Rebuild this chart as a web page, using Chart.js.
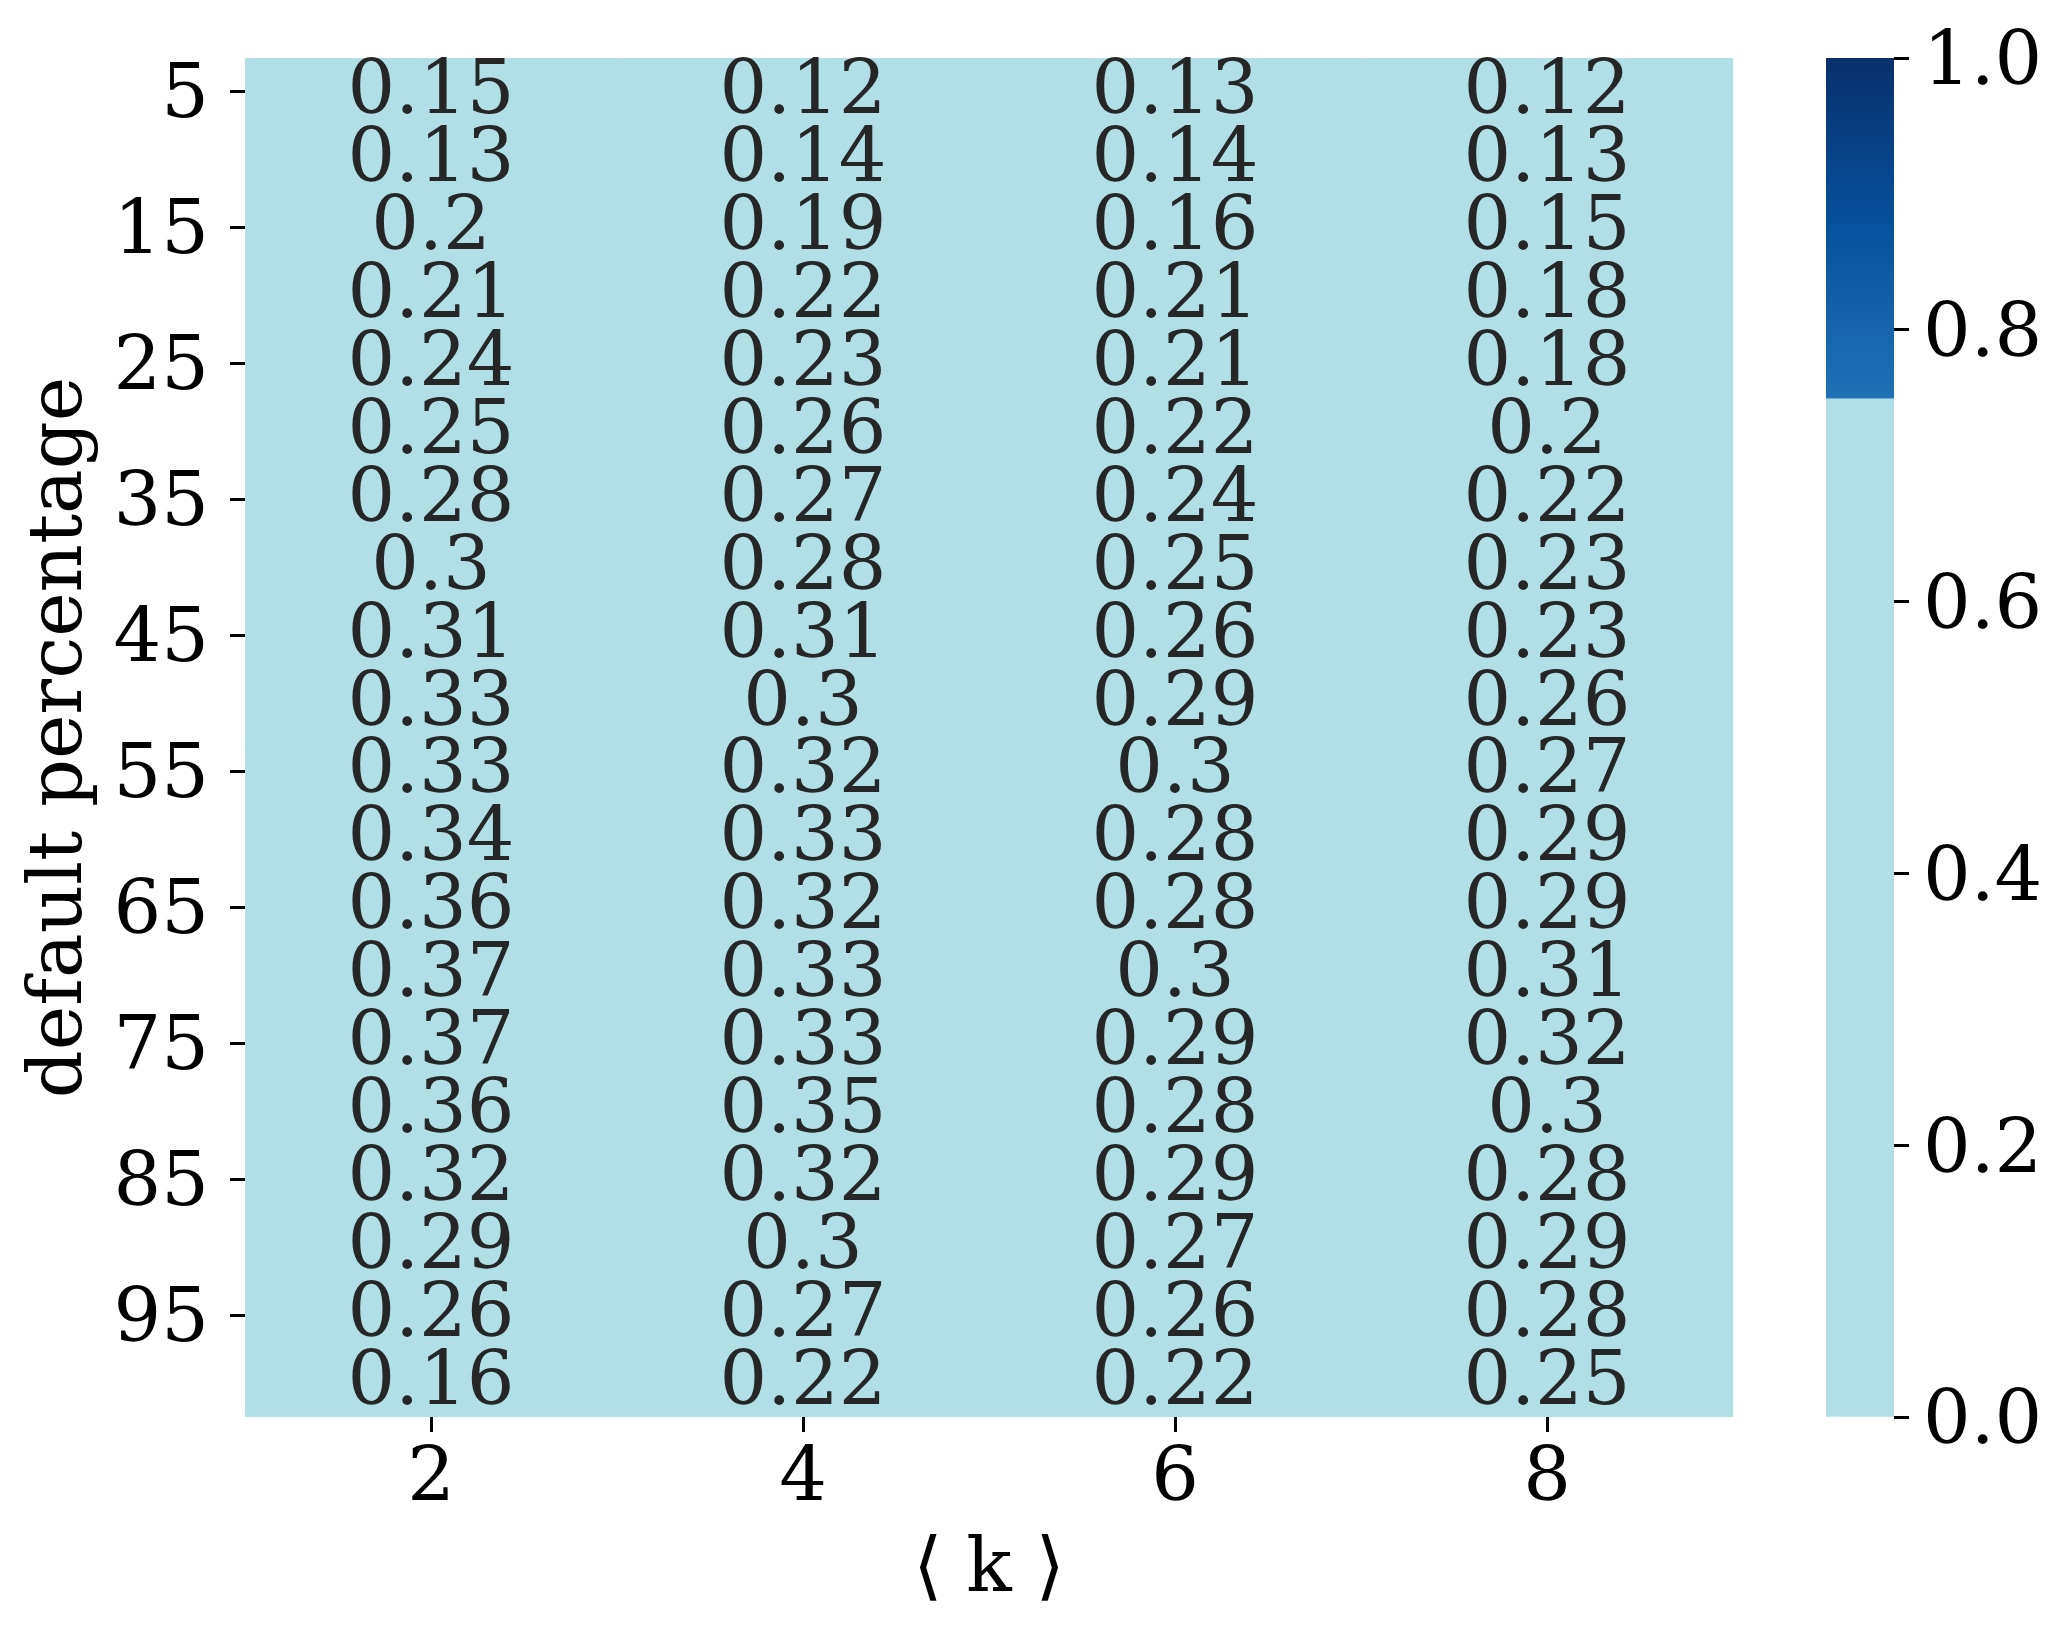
<!DOCTYPE html>
<html>
<head>
<meta charset="utf-8">
<script src="https://cdn.jsdelivr.net/npm/chart.js@4.4.1/dist/chart.umd.min.js"></script>
<style>
  html, body { margin: 0; padding: 0; background: #fff; }
  #wrap { position: relative; width: 2072px; height: 1639px; }
  canvas { position: absolute; top: 0; }
  #heat { left: 0; }
  #cbar { left: 1780px; }
</style>
</head>
<body>
<div id="wrap">
  <canvas id="heat" width="1780" height="1639"></canvas>
  <canvas id="cbar" width="292" height="1639"></canvas>
</div>
<script>
// ====== data ======
const kLabels = ['2', '4', '6', '8'];
const rowLabels = ['5', '10', '15', '20', '25', '30', '35', '40', '45', '50',
                   '55', '60', '65', '70', '75', '80', '85', '90', '95', '100'];
// one array per column (<k>), top row = 5 %
const k2 = [0.15, 0.13, 0.2, 0.21, 0.24, 0.25, 0.28, 0.3, 0.31, 0.33, 0.33, 0.34, 0.36, 0.37, 0.37, 0.36, 0.32, 0.29, 0.26, 0.16];
const k4 = [0.12, 0.14, 0.19, 0.22, 0.23, 0.26, 0.27, 0.28, 0.31, 0.3, 0.32, 0.33, 0.32, 0.33, 0.33, 0.35, 0.32, 0.3, 0.27, 0.22];
const k6 = [0.13, 0.14, 0.16, 0.21, 0.21, 0.22, 0.24, 0.25, 0.26, 0.29, 0.3, 0.28, 0.28, 0.3, 0.29, 0.28, 0.29, 0.27, 0.26, 0.22];
const k8 = [0.12, 0.13, 0.15, 0.18, 0.18, 0.2, 0.22, 0.23, 0.23, 0.26, 0.27, 0.29, 0.29, 0.31, 0.32, 0.3, 0.28, 0.29, 0.28, 0.25];
const columns = [k2, k4, k6, k8];
const cbTicks = [0, 0.2, 0.4, 0.6, 0.8, 1.0];

const FONT = 'DejaVu Serif';
const FS = 75;
Chart.defaults.font.family = FONT;
Chart.defaults.font.size = FS;
Chart.defaults.color = '#000';

// colormap: powderblue below 0.75, upper part of "Blues" above
const LIGHT = '#b0dfe5';
const blueStops = [[0.75, [33, 113, 181]], [0.875, [8, 81, 156]], [1.0, [8, 48, 107]]];
function cmap(v) {
  if (v < 0.75) return LIGHT;
  for (let i = 1; i < blueStops.length; i++) {
    const [a, ca] = blueStops[i - 1], [b, cb] = blueStops[i];
    if (v <= b) {
      const t = (v - a) / (b - a);
      const c = ca.map((x, j) => Math.round(x + (cb[j] - x) * t));
      return 'rgb(' + c.join(',') + ')';
    }
  }
  return 'rgb(8,48,107)';
}

// no extra label padding, keeps the plot area where the layout puts it
function noPad(s) {
  s.paddingTop = 0; s.paddingBottom = 0; s.paddingLeft = 0; s.paddingRight = 0;
}

// ====== heatmap (stacked unit bars, one dataset per row) ======
const datasets = rowLabels.map((lab, r) => ({
  label: lab,
  data: kLabels.map(() => 1),
  backgroundColor: columns.map(col => cmap(col[r])),
  borderWidth: 0,
  barPercentage: 1,
  categoryPercentage: 1
}));

const cellText = {
  id: 'cellText',
  afterDatasetsDraw(chart) {
    const { ctx, scales: { x, y } } = chart;
    ctx.save();
    ctx.font = FS + 'px "' + FONT + '"';
    ctx.fillStyle = '#262626';
    ctx.textAlign = 'center';
    ctx.textBaseline = 'alphabetic';
    columns.forEach((col, c) => {
      col.forEach((v, r) => {
        const px = x.getPixelForValue(c);
        const py = y.getPixelForValue(r + 0.5);
        ctx.fillText(String(v), px, py + 0.28 * FS);
      });
    });
    ctx.restore();
  }
};

new Chart(document.getElementById('heat'), {
  type: 'bar',
  data: { labels: kLabels, datasets: datasets },
  options: {
    responsive: false,
    devicePixelRatio: 1,
    animation: false,
    layout: { padding: { top: 58, right: 47, bottom: 0, left: 0 } },
    plugins: { legend: { display: false }, tooltip: { enabled: false } },
    scales: {
      x: {
        stacked: true,
        grid: { offset: false, drawOnChartArea: false, drawTicks: true, tickLength: 15, tickWidth: 3, tickColor: '#000' },
        border: { display: false },
        ticks: { padding: 4, font: { size: FS } },
        title: { display: true, text: '\u27e8 k \u27e9', font: { size: FS }, padding: { top: 0, bottom: 22 } },
        afterFit(s) { s.height = 222; noPad(s); }
      },
      y: {
        stacked: true,
        reverse: true,
        min: 0,
        max: rowLabels.length,
        afterBuildTicks(s) {
          s.ticks = rowLabels.map((l, i) => i).filter(i => i % 2 === 0).map(i => ({ value: i + 0.5 }));
        },
        grid: { drawOnChartArea: false, drawTicks: true, tickLength: 15, tickWidth: 3, tickColor: '#000' },
        border: { display: false },
        ticks: {
          autoSkip: false,
          padding: 21,
          labelOffset: 6,
          font: { size: FS },
          callback: (v) => rowLabels[Math.round(v - 0.5)]
        },
        title: { display: true, text: 'default percentage', font: { size: FS }, padding: { top: 17, bottom: 0 } },
        afterFit(s) { s.width = 245; noPad(s); }
      }
    }
  },
  plugins: [cellText]
});

// ====== colorbar ======
new Chart(document.getElementById('cbar'), {
  type: 'bar',
  data: {
    labels: [''],
    datasets: [{
      data: [1],
      borderWidth: 0,
      barPercentage: 1,
      categoryPercentage: 1,
      backgroundColor(ctx) {
        const area = ctx.chart.chartArea;
        if (!area) return LIGHT;
        const g = ctx.chart.ctx.createLinearGradient(0, area.bottom, 0, area.top);
        g.addColorStop(0, LIGHT);
        g.addColorStop(0.749, LIGHT);
        blueStops.forEach(([v]) => g.addColorStop(v, cmap(v)));
        return g;
      }
    }]
  },
  options: {
    responsive: false,
    devicePixelRatio: 1,
    animation: false,
    layout: { padding: { top: 58, right: 0, bottom: 222, left: 46 } },
    plugins: { legend: { display: false }, tooltip: { enabled: false } },
    scales: {
      x: { display: false },
      y: {
        position: 'right',
        min: 0,
        max: 1,
        afterBuildTicks(s) { s.ticks = cbTicks.map(v => ({ value: v })); },
        grid: { drawOnChartArea: false, drawTicks: true, tickLength: 15, tickWidth: 3, tickColor: '#000' },
        border: { display: false },
        ticks: { padding: 14, labelOffset: 7, font: { size: FS }, callback: (v) => v.toFixed(1) },
        afterFit(s) { s.width = 178; noPad(s); }
      }
    }
  }
});
</script>
</body>
</html>
